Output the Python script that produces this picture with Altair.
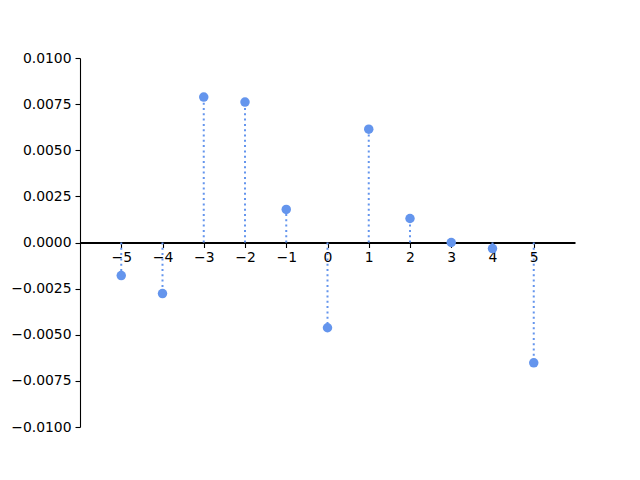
import altair as alt
import pandas as pd

xs = [-5, -4, -3, -2, -1, 0, 1, 2, 3, 4, 5]
ys = [-0.00179, -0.00277, 0.00788, 0.00761, 0.00179, -0.00462,
      0.00614, 0.0013, 0.0, -0.00033, -0.00652]
x_ticks = [-5, -4, -3, -2, -1, 0, 1, 2, 3, 4, 5]
y_ticks = [-0.01, -0.0075, -0.005, -0.0025, 0.0, 0.0025, 0.005, 0.0075, 0.01]

df = pd.DataFrame({"x": xs, "y": ys, "zero": [0.0] * len(xs)})

W, H = 495, 369
color = "#6495ED"
font = "DejaVu Sans"

xscale = alt.Scale(domain=[-6, 6], nice=False, zero=False)
yscale = alt.Scale(domain=[-0.01, 0.01], nice=False)

xaxis = alt.Axis(values=x_ticks, format="d", title=None, grid=False,
                 offset=-H / 2, domainColor="black", domainWidth=2,
                 tickColor="black", tickWidth=1.1, tickSize=5,
                 labelFont=font, labelFontSize=13.9, labelColor="black",
                 labelPadding=3, labelFlush=False)
yaxis = alt.Axis(values=y_ticks, format=".4f", title=None, grid=False,
                 domainColor="black", domainWidth=1.1,
                 tickColor="black", tickWidth=1.1, tickSize=5,
                 labelFont=font, labelFontSize=13.9, labelColor="black",
                 labelPadding=4, labelFlush=False)

stems = alt.Chart(df).mark_rule(color=color, strokeWidth=2,
                                strokeDash=[2, 3.3]).encode(
    x=alt.X("x:Q", scale=xscale, axis=xaxis),
    y=alt.Y("zero:Q", scale=yscale, axis=yaxis),
    y2="y:Q",
)

points = alt.Chart(df).mark_circle(color=color, size=90, opacity=1).encode(
    x=alt.X("x:Q", scale=xscale),
    y=alt.Y("y:Q", scale=yscale),
)

chart = alt.layer(stems, points).properties(
    width=W, height=H,
    autosize=alt.AutoSizeParams(type="none"),
    padding={"left": 72, "top": 50, "right": 10, "bottom": 10},
).configure_view(stroke=None)

chart.save("out.html", embed_options={"renderer": "svg", "actions": False})
